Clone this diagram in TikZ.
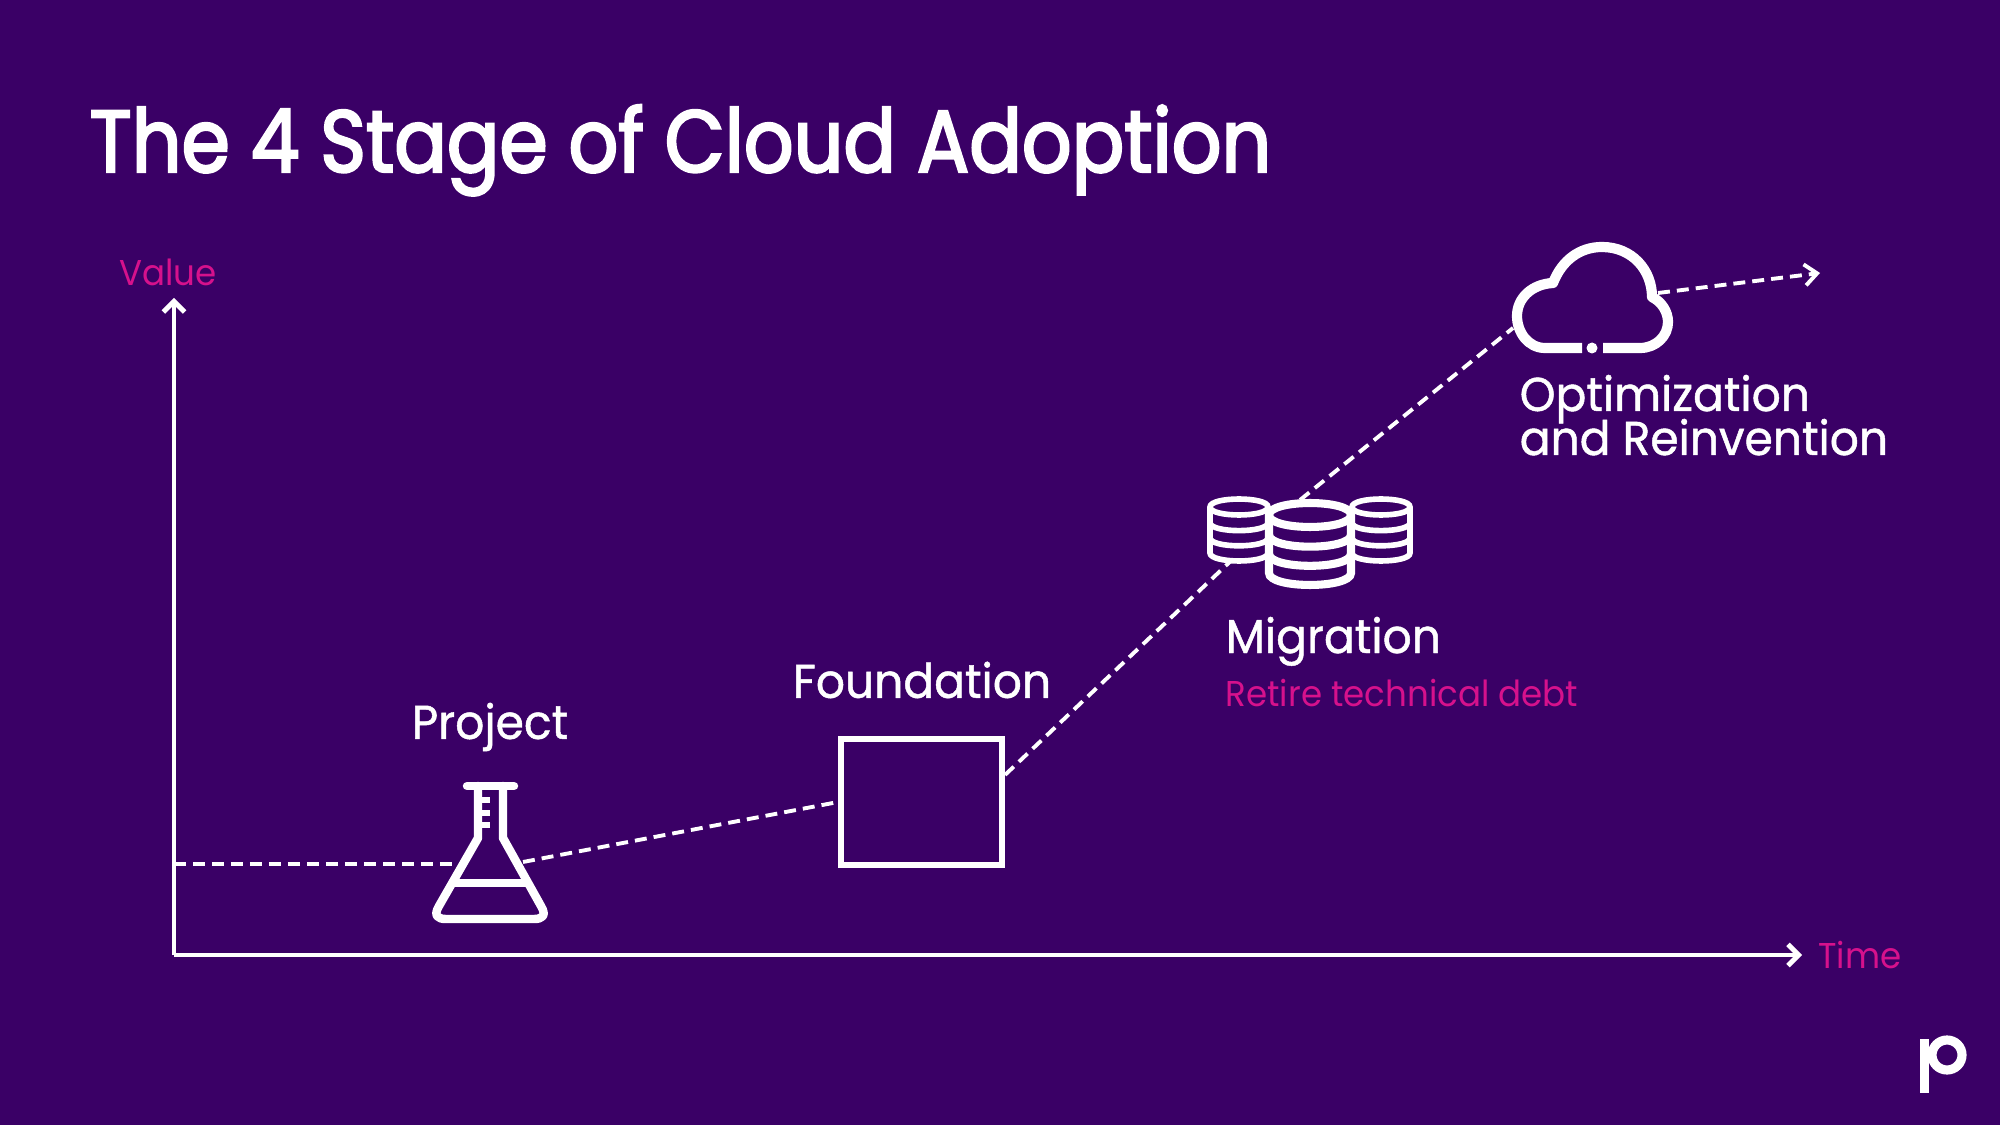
\documentclass[tikz,border=0pt]{standalone}
\usepackage{fontspec}
\setmainfont{Poppins}
\newfontfamily\titlefont[FakeStretch=0.885,FakeBold=2.6]{Poppins}
\newfontfamily\stagefont[FakeStretch=0.96,FakeBold=1]{Poppins}
\newfontfamily\pinkfont[FakeStretch=0.95]{Poppins}
\usetikzlibrary{arrows.meta}
\definecolor{cldpurple}{HTML}{3A0066}
\definecolor{cldpink}{HTML}{D6118C}
\definecolor{cldwhite}{HTML}{FFFFFF}

\begin{document}
\begin{tikzpicture}[x=0.01cm, y=-0.01cm,
    axisline/.style={draw=cldwhite, line width=1.4pt, -{Straight Barb[length=3pt,width=6pt]}},
    stageline/.style={draw=cldwhite, line width=1.1pt, dash pattern=on 3.4pt off 2pt},
    iconline/.style={draw=cldwhite, line width=2.4pt, line cap=round, line join=round},
    stagelbl/.style={font=\stagefont\fontsize{13.5}{14}\selectfont, text=cldwhite, inner sep=0pt},
    pinklbl/.style={font=\pinkfont\fontsize{10.2}{12}\selectfont, text=cldpink, inner sep=0pt},
  ]
  \fill[cldpurple] (0,0) rectangle (2000,1125);
  \useasboundingbox (0,0) rectangle (2000,1125);

  \node[font=\titlefont\fontsize{25}{30}\selectfont, text=cldwhite, anchor=base west, inner sep=0pt] (title) at (89,172) {The 4 Stage of Cloud Adoption};

  \coordinate (origin) at (174,955);
  \coordinate (valuetip) at (174,298);
  \coordinate (timetip) at (1802,955);
  \draw[axisline] (origin) -- (valuetip);
  \draw[axisline] (origin) -- (timetip);
  \node[pinklbl] (valuelbl) at (168,272) {Value};
  \node[pinklbl] (timelbl) at (1860,955) {Time};

  \coordinate (axisleft) at (174,864);
  \coordinate (flaskleft) at (458,864);
  \coordinate (flaskright) at (523,862);
  \coordinate (dbleft) at (1236,556);
  \coordinate (dbtop) at (1300,500);
  \coordinate (cloudleft) at (1513,328);
  \coordinate (cloudright) at (1658,293);
  \coordinate (endtip) at (1820,273);

  \node[draw=cldwhite, line width=1.7pt, minimum width=1.61cm, minimum height=1.26cm, inner sep=0pt, anchor=north west] (foundbox) at (838,736) {};

  \draw[stageline] (axisleft) -- (flaskleft);
  \draw[stageline] (flaskright) -- (foundbox.west);
  \draw[stageline] (foundbox.18) -- (dbleft);
  \draw[stageline] (dbtop) -- (cloudleft);
  \draw[stageline, -{Straight Barb[length=3.5pt,width=6pt]}] (cloudright) -- (endtip);

  % flask
  \draw[iconline] (467,786) -- (514,786);
  \draw[iconline] (478,786) -- (478,838) -- (439,906)
    .. controls (433,916) and (438,919) .. (446,919) -- (534,919)
    .. controls (542,919) and (547,916) .. (541,906) -- (503,838) -- (503,786);
  \draw[iconline, line cap=butt] (453,883) -- (527,883);
  \foreach \y in {800,813,825}
    \draw[draw=cldwhite, line width=1.8pt] (478,\y) -- (490,\y);

  % databases
  \foreach \cx/\rx/\topy/\boty/\ry/\lw in {1239/29/507/553/8/1.6, 1381/29/507/553/8/1.6, 1310/41/515/573/12/2.3}
  {
    \fill[cldpurple] ({\cx-\rx},\topy) .. controls ({\cx-\rx},{\topy-1.33*\ry}) and ({\cx+\rx},{\topy-1.33*\ry}) .. ({\cx+\rx},\topy)
      -- ({\cx+\rx},\boty) .. controls ({\cx+\rx},{\boty+1.33*\ry}) and ({\cx-\rx},{\boty+1.33*\ry}) .. ({\cx-\rx},\boty) -- cycle;
    \draw[draw=cldwhite, line width=\lw pt] ({\cx-\rx},\topy) .. controls ({\cx-\rx},{\topy-1.33*\ry}) and ({\cx+\rx},{\topy-1.33*\ry}) .. ({\cx+\rx},\topy)
      -- ({\cx+\rx},\boty) .. controls ({\cx+\rx},{\boty+1.33*\ry}) and ({\cx-\rx},{\boty+1.33*\ry}) .. ({\cx-\rx},\boty) -- cycle;
    \foreach \f in {0,0.34,0.67}
      \draw[draw=cldwhite, line width=\lw pt] ({\cx-\rx},{\topy+\f*(\boty-\topy)}) .. controls ({\cx-\rx},{\topy+\f*(\boty-\topy)+1.33*\ry}) and ({\cx+\rx},{\topy+\f*(\boty-\topy)+1.33*\ry}) .. ({\cx+\rx},{\topy+\f*(\boty-\topy)});
  }

  % cloud
  \draw[iconline, line width=2.9pt, line cap=butt] (1582,348) -- (1545,348)
    .. controls (1528,348) and (1517,332) .. (1517,316)
    .. controls (1517,298) and (1532,284) .. (1553,283)
    .. controls (1562,260) and (1580,247) .. (1602,247)
    .. controls (1632,247) and (1652,270) .. (1652,297)
    .. controls (1662,302) and (1668,312) .. (1668,322)
    .. controls (1668,336) and (1656,348) .. (1640,348) -- (1603,348);
  \fill[cldwhite] (1592,348) circle [radius=5.5];

  % logo
  \fill[cldwhite] (1920,1039) rectangle (1929,1093);
  \draw[draw=cldwhite, line width=2.6pt] (1947,1055) circle [radius=15];

  \node[stagelbl] (projectlbl) at (490,727) {Project};
  \node[stagelbl] (foundlbl) at (922,680) {Foundation};
  \node[stagelbl, anchor=base west] (miglbl) at (1225,653) {Migration};
  \node[pinklbl, anchor=base west] (retirelbl) at (1225,706) {Retire technical debt};
  \node[stagelbl, anchor=base west] (optlbl) at (1519,411) {Optimization};
  \node[stagelbl, anchor=base west] (reinvlbl) at (1519,455) {and Reinvention};
\end{tikzpicture}
\end{document}
